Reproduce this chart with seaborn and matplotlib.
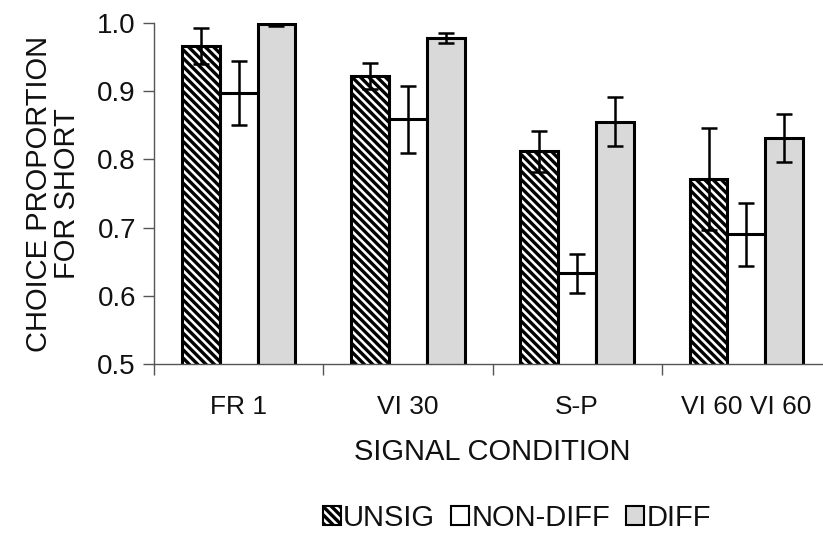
import matplotlib
matplotlib.use("Agg")
import matplotlib.pyplot as plt
import seaborn as sns
import pandas as pd
import numpy as np
from matplotlib.patches import Patch

categories = ["FR 1", "VI 30", "S-P", "VI 60 VI 60"]
series = ["UNSIG", "NON-DIFF", "DIFF"]
unsig = [0.966, 0.922, 0.812, 0.771]
nondiff = [0.897, 0.859, 0.633, 0.690]
diff = [0.998, 0.978, 0.855, 0.831]
unsig_err = [0.026, 0.019, 0.030, 0.075]
nondiff_err = [0.047, 0.049, 0.029, 0.046]
diff_err = [0.003, 0.007, 0.036, 0.035]

values = {"UNSIG": unsig, "NON-DIFF": nondiff, "DIFF": diff}
errors = {"UNSIG": unsig_err, "NON-DIFF": nondiff_err, "DIFF": diff_err}
rows = []
for s in series:
    for c, v, e in zip(categories, values[s], errors[s]):
        rows.append({"cond": c, "group": s, "value": v, "err": e})
df = pd.DataFrame(rows)

sns.set_theme(style="white")
plt.rcParams["font.family"] = ["Liberation Sans", "DejaVu Sans"]
plt.rcParams["hatch.linewidth"] = 2.4

fig = plt.figure(figsize=(8.23, 5.33), dpi=100)
ax = fig.add_axes([154/823, 1-364/533, (831-154)/823, (364-23)/533])

fills = {"UNSIG": "white", "NON-DIFF": "white", "DIFF": "#d9d9d9"}
hatches = {"UNSIG": "\\\\\\\\", "NON-DIFF": "", "DIFF": ""}

sns.barplot(data=df, x="cond", y="value", hue="group", order=categories,
            hue_order=series, width=0.67, errorbar=None, ax=ax,
            palette=fills, edgecolor="black", linewidth=2.2, legend=False)

for cont, s in zip(ax.containers, series):
    xs = []
    for p in cont.patches:
        p.set_hatch(hatches[s])
        p.set_facecolor(fills[s])
        p.set_edgecolor("black")
        xs.append(p.get_x() + p.get_width() / 2)
    ax.errorbar(xs, values[s], yerr=errors[s], fmt="none", ecolor="black",
                elinewidth=1.8, capsize=5.5, capthick=1.8, zorder=5)

ax.set_ylim(0.5, 1.0)
ax.set_xlim(-0.5, 3.5)
ax.set_yticks([0.5, 0.6, 0.7, 0.8, 0.9, 1.0])
ax.set_yticklabels(["0.5", "0.6", "0.7", "0.8", "0.9", "1.0"])
ax.set_xticks(range(4))
ax.set_xticklabels(categories)
ax.set_xticks([0.5 + i for i in range(-1, 3)], minor=True)
ax.tick_params(axis="x", which="major", length=0, pad=22, labelsize=19, labelcolor="#111111")
ax.tick_params(axis="x", which="minor", length=8, width=1, color="#555555", direction="out", bottom=True)
ax.tick_params(axis="y", length=8, width=1, color="#555555", direction="out", left=True, pad=5, labelsize=20, labelcolor="#111111")
for side in ["top", "right"]:
    ax.spines[side].set_visible(False)
for side in ["left", "bottom"]:
    ax.spines[side].set_color("#555555")
    ax.spines[side].set_linewidth(1.0)

ax.set_xlabel("SIGNAL CONDITION", fontsize=21, labelpad=14, color="#111111")
ax.set_ylabel("CHOICE PROPORTION\nFOR SHORT", fontsize=21, labelpad=12, linespacing=1.0, color="#111111")

handles = [Patch(facecolor=fills[s], edgecolor="black", hatch=("\\\\\\\\" if s == "UNSIG" else ""), linewidth=1.5) for s in series]
fig.legend(handles, series, loc="center", bbox_to_anchor=(517/823, 1-518/533), ncol=3,
           frameon=False, fontsize=21, handlelength=0.62, handleheight=0.62,
           handletextpad=0.08, columnspacing=0.55, labelcolor="#111111")

fig.savefig("out.png", dpi=100)
